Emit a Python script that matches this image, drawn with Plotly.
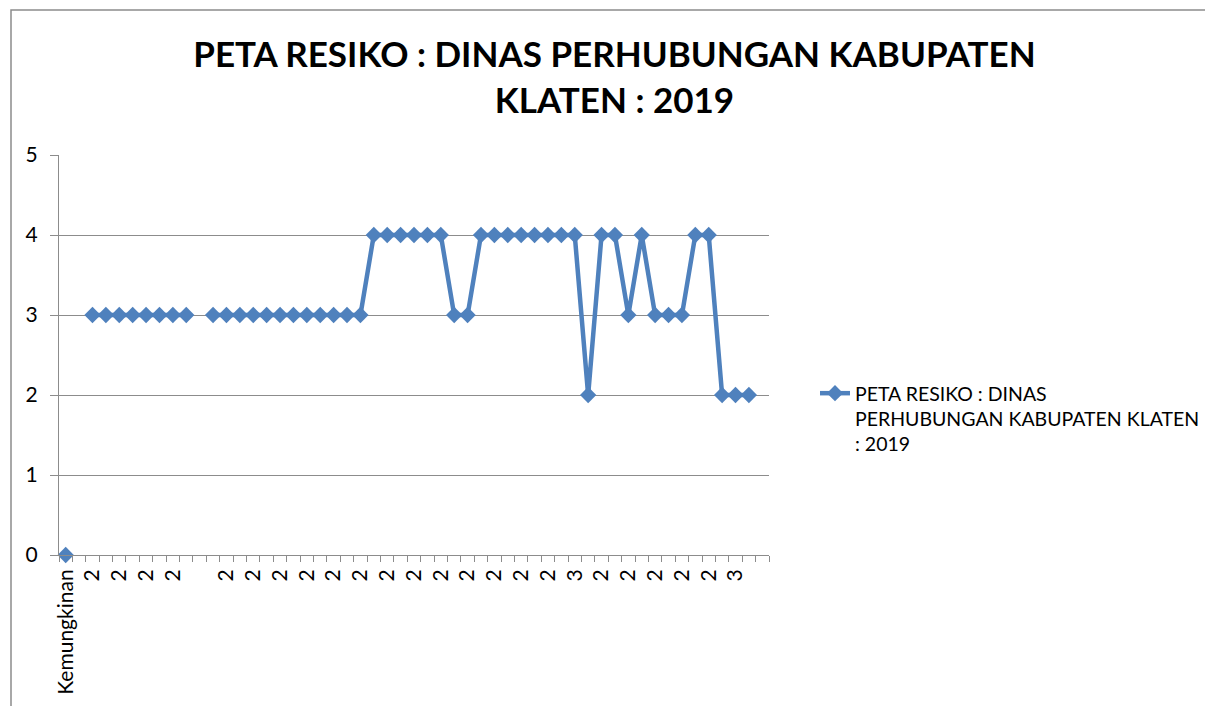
import plotly.graph_objects as go

# ---- data ----
x_labels = [
    "Kemungkinan", "", "2", "", "2", "", "2", "", "2", "", "", "", "2", "", "2", "",
    "2", "", "2", "", "2", "", "2", "", "2", "", "2", "", "2", "", "2", "",
    "2", "", "2", "", "2", "", "3", "", "2", "", "2", "", "2", "", "2", "",
    "2", "", "3", "", "",
]
values = [
    0, None, 3, 3, 3, 3, 3, 3, 3, 3, None,
    3, 3, 3, 3, 3, 3, 3, 3, 3, 3, 3, 3,
    4, 4, 4, 4, 4, 4,
    3, 3,
    4, 4, 4, 4, 4, 4, 4, 4,
    2,
    4, 4,
    3,
    4,
    3, 3, 3,
    4, 4,
    2, 2, 2,
    None,
]
series_name = "PETA RESIKO : DINAS<br>PERHUBUNGAN KABUPATEN KLATEN<br>: 2019"
title_text = "PETA RESIKO : DINAS PERHUBUNGAN KABUPATEN<br>KLATEN : 2019"
y_ticks = [0, 1, 2, 3, 4, 5]

x_pos = list(range(len(x_labels)))
tickvals = [i for i, t in enumerate(x_labels) if t]
ticktext = [t for t in x_labels if t]

BLUE = "#4F81BD"
GRID = "#8C8C8C"
FONT = "Lato, Carlito, Calibri, sans-serif"

OFF = 8  # page body margin
W, H = 1213, 706
L, T = 59 - OFF, 155 - OFF
R, B = W - (769 - OFF), H - (555 - OFF)
pw, ph = W - L - R, H - T - B


def px_x(sx):
    return (sx - OFF - L) / pw


def px_y(sy):
    return (H - B - (sy - OFF)) / ph


fig = go.Figure()
fig.add_trace(go.Scatter(
    x=x_pos, y=values, name=series_name, mode="lines+markers",
    line=dict(color=BLUE, width=4.5),
    marker=dict(symbol="diamond", size=12.5, color=BLUE),
    cliponaxis=False, connectgaps=False,
))

fig.update_layout(
    width=W, height=H,
    margin=dict(l=L, r=R, t=T, b=B),
    paper_bgcolor="white", plot_bgcolor="white",
    font=dict(family=FONT, color="black", size=20),
    title=dict(text="<b>" + title_text + "</b>", x=0.5, xref="container",
               xanchor="center", y=1 - 59 / H, yanchor="top",
               font=dict(family=FONT, size=35, color="black")),
    showlegend=True,
    legend=dict(x=px_x(815), y=px_y(374), xanchor="left", yanchor="top",
                valign="top", font=dict(family=FONT, size=19.5, color="black"),
                bgcolor="rgba(0,0,0,0)"),
    xaxis=dict(
        range=[-0.5, len(x_labels) - 0.5],
        tickmode="array", tickvals=tickvals, ticktext=ticktext,
        tickangle=-90, ticks="outside", ticklen=5, tickcolor="rgba(0,0,0,0)",
        tickfont=dict(family=FONT, size=21, color="black"),
        showgrid=False, zeroline=False,
        showline=True, linecolor=GRID, linewidth=1,
        minor=dict(tickmode="linear", tick0=-0.5, dtick=1, ticks="outside",
                   ticklen=6, tickcolor=GRID, tickwidth=1, showgrid=False),
    ),
    yaxis=dict(
        range=[0, 5], tickmode="array", tickvals=y_ticks,
        ticks="outside", ticklen=8, tickcolor=GRID,
        showgrid=True, gridcolor=GRID, gridwidth=1, zeroline=False,
        showline=True, linecolor=GRID, linewidth=1,
        tickfont=dict(family=FONT, size=21, color="black"),
        ticklabelstandoff=8,
    ),
    shapes=[dict(type="rect", xref="paper", yref="paper",
                 x0=px_x(11), x1=px_x(W + 40), y0=px_y(H + 40), y1=px_y(10),
                 line=dict(color=GRID, width=1.5), fillcolor="rgba(0,0,0,0)",
                 layer="below")],
)

fig.write_html("out.html")
